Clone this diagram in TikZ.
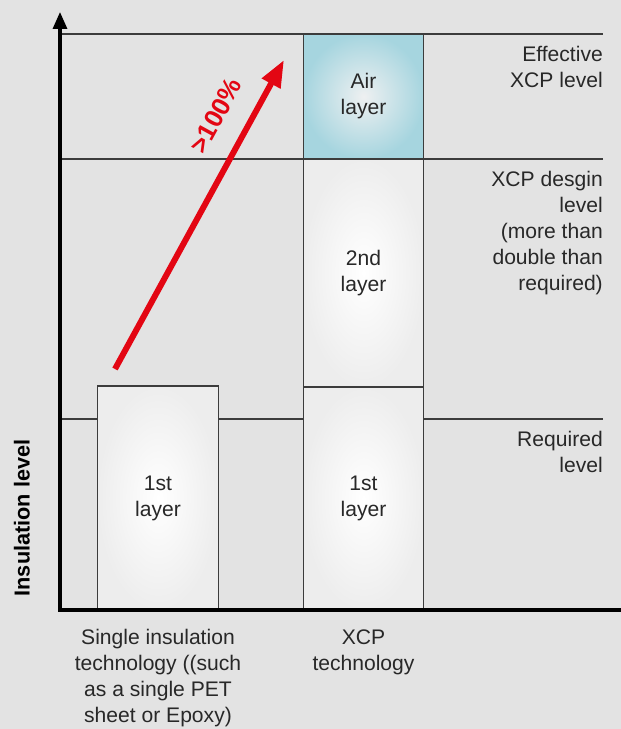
\documentclass[tikz,border=0pt]{standalone}
\usepackage{fontspec}
\setmainfont{Liberation Sans}
\usetikzlibrary{arrows.meta,positioning}
\definecolor{bggray}{RGB}{227,227,227}
\definecolor{lndark}{RGB}{60,60,60}
\definecolor{txtgray}{RGB}{40,40,40}
\definecolor{airblue}{RGB}{166,213,223}
\definecolor{aircore}{RGB}{238,240,241}
\definecolor{gainred}{RGB}{227,6,19}

\begin{document}
\begin{tikzpicture}[x=0.03cm,y=-0.03cm,
  layer/.style={draw=lndark,line width=0.9pt,minimum width=3.62cm,inner sep=0pt,
    shading=radial,inner color=white,outer color=gray!14,align=center,
    font=\fontsize{18}{22.2}\selectfont,text=txtgray},
  airlayer/.style={layer,inner color=aircore,outer color=airblue},
  level/.style={draw=lndark,line width=1.1pt},
  lvl/.style={align=right,anchor=east,inner sep=0pt,font=\fontsize{18}{22.2}\selectfont,text=txtgray},
  cat/.style={align=center,font=\fontsize{18}{22.2}\selectfont,text=txtgray},
  axis/.style={line width=2.6pt,line join=miter},
  gain/.style={gainred,line width=5.1pt},
]
  \fill[bggray] (0,0) rectangle (621,729);
  \useasboundingbox (0,0) rectangle (621,729);

  \coordinate (o)    at (60,610);
  \coordinate (ytop) at (60,12);
  \coordinate (xend) at (621,610);

  % level lines
  \draw[level] (60,34)  -- (603,34);
  \draw[level] (60,159) -- (603,159);
  \draw[level] (60,419) -- (603,419);

  % bars
  \node[layer,minimum height=6.72cm] (bar1) at (158,498) {1st\\layer};
  \node[layer,minimum height=6.69cm] (x1) at (363.5,498.5) {1st\\layer};
  \node[layer,minimum height=6.84cm] (x2) at (363.5,273) {2nd\\layer};
  \node[airlayer,minimum height=3.75cm] (air) at (363.5,96.5) {Air\\layer};

  \draw[axis,-{Triangle[width=12pt,length=14.5pt]}] (xend) -- (o) -- (ytop);

  % levels
  \node[lvl] (effl) at (603,67)    {Effective\\XCP level};
  \node[lvl] (desl) at (603,233.5) {XCP desgin\\level\\(more than\\double than\\required)};
  \node[lvl] (reql) at (603,452)   {Required\\level};

  \node[rotate=90,font=\bfseries\fontsize{18.5}{22.2}\selectfont] (ylab) at (22,518) {Insulation level};

  \node[cat,below=12.5pt of bar1] (cat1) {Single insulation\\technology ((such\\as a single PET\\sheet or Epoxy)};
  \node[cat,below=12.5pt of x1] (cat2) {XCP\\technology};

  % gain arrow
  \coordinate (gstart) at (115,369);
  \coordinate (gend)   at (284,60);
  \draw[gain,-{Triangle[width=17pt,length=23pt]}] (gstart) -- (gend)
    node[pos=0.768,sloped,above=18pt,inner sep=0pt,font=\bfseries\fontsize{22}{26}\selectfont,text=gainred] (gainlbl) {>100\%};
\end{tikzpicture}
\end{document}
